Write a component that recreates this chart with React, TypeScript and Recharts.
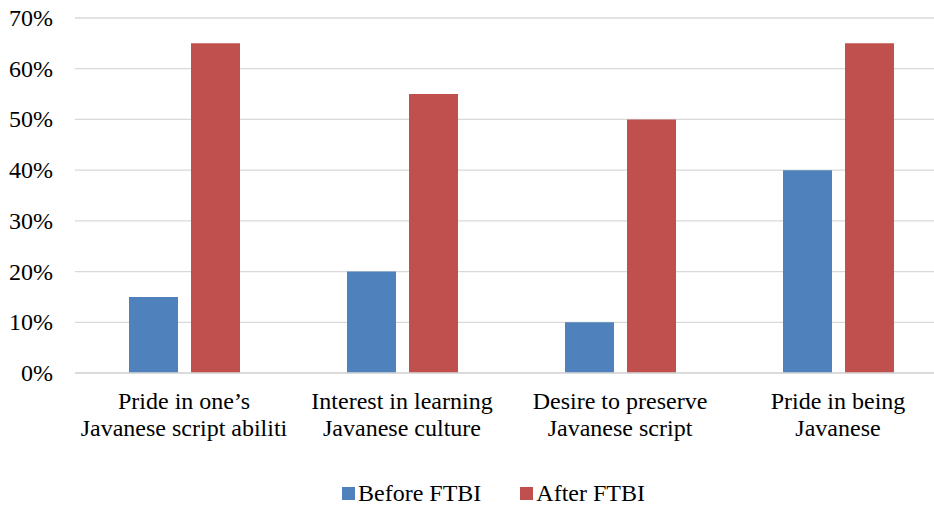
import { BarChart, Bar, XAxis, YAxis, CartesianGrid, Legend } from "recharts"

const categories = [
  "Pride in one’s\nJavanese script abiliti",
  "Interest in learning\nJavanese culture",
  "Desire to preserve\nJavanese script",
  "Pride in being\nJavanese",
]
const beforeFTBI = [15, 20, 10, 40]
const afterFTBI = [65, 55, 50, 65]
const yTicks = [0, 10, 20, 30, 40, 50, 60, 70]

const series = [
  { key: "before", name: "Before FTBI", color: "#4F81BD" },
  { key: "after", name: "After FTBI", color: "#C0504D" },
]

const data = categories.map((name, i) => ({
  name,
  before: beforeFTBI[i],
  after: afterFTBI[i],
}))

const FONT = "Liberation Serif"

function CategoryTick({ x, y, payload }: any) {
  const lines = String(payload.value).split("\n")
  return (
    <text x={x} y={y} textAnchor="middle" fill="#000" fontSize={24} fontFamily={FONT}>
      {lines.map((line, i) => (
        <tspan key={i} x={x} dy={i === 0 ? 28 : 27}>
          {line}
        </tspan>
      ))}
    </text>
  )
}

function LegendContent() {
  return (
    <div style={{ display: "flex", height: 26, lineHeight: "26px", paddingLeft: 342, fontFamily: FONT, fontSize: 24, color: "#000" }}>
      {series.map((s) => (
        <div key={s.key} style={{ display: "flex", alignItems: "center", marginRight: 39 }}>
          <span style={{ display: "inline-block", width: 13, height: 13, background: s.color, marginRight: 3 }} />
          <span>{s.name}</span>
        </div>
      ))}
    </div>
  )
}

function YTick({ x, y, payload }: any) {
  return (
    <text x={x} y={y} dy={8} textAnchor="end" fill="#000" fontSize={24} fontFamily={FONT}>
      {`${payload.value}%`}
    </text>
  )
}

export default function App() {
  return (
    <div style={{ position: "absolute", left: 0, top: 0, width: 934, height: 506, overflow: "hidden", background: "#fff", fontFamily: FONT }}>
      <BarChart
        width={947}
        height={506}
        data={data}
        margin={{ top: 18, right: 0, bottom: 0, left: 0 }}
        barGap={13}
        barSize={49}
      >
        <CartesianGrid vertical={false} stroke="#D9D9D9" strokeWidth={1.3} />
        <XAxis
          dataKey="name"
          tick={<CategoryTick />}
          tickLine={false}
          axisLine={{ stroke: "#D9D9D9", strokeWidth: 1.3 }}
          height={107}
          interval={0}
        />
        <YAxis
          width={75}
          domain={[0, 70]}
          ticks={yTicks}
          tickLine={false}
          axisLine={false}
          tickMargin={16}
          tick={<YTick />}
        />
        <Legend verticalAlign="bottom" height={26} content={<LegendContent />} wrapperStyle={{ left: 0, width: 934, bottom: 0 }} />
        {series.map((s) => (
          <Bar key={s.key} dataKey={s.key} name={s.name} fill={s.color} isAnimationActive={false} />
        ))}
      </BarChart>
    </div>
  )
}
